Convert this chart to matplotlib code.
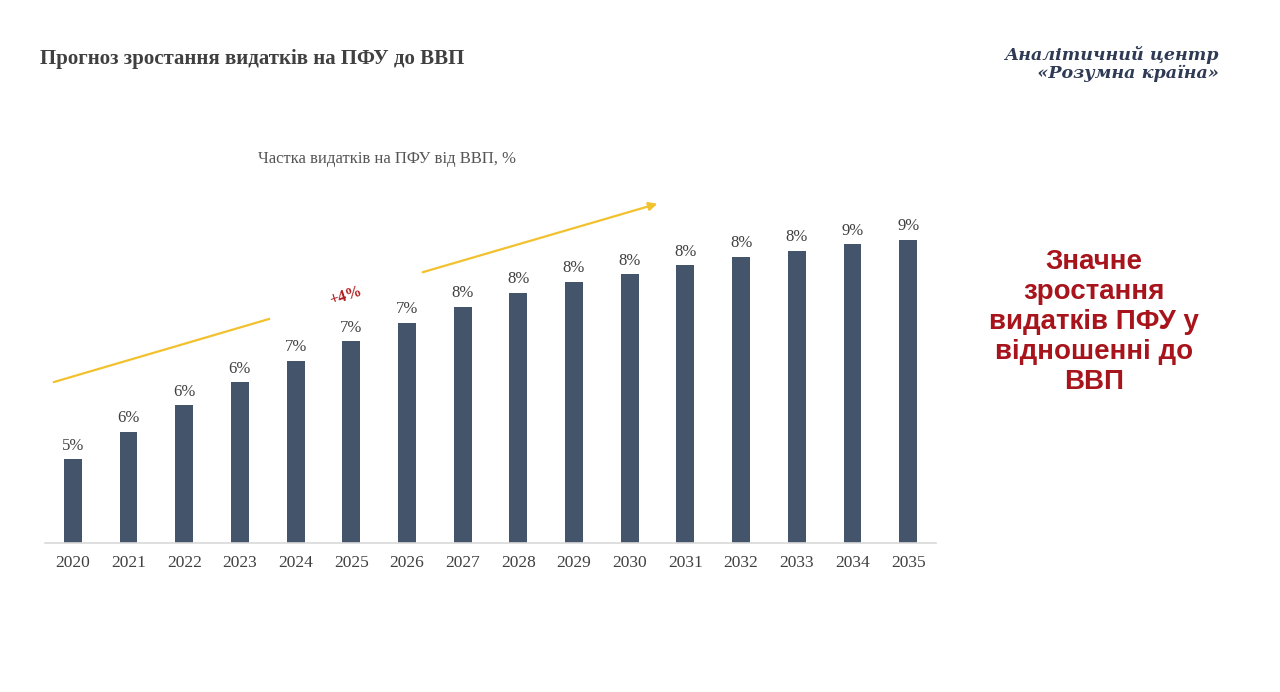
import numpy as np
import matplotlib as mpl
import matplotlib.pyplot as plt

years = ['2020', '2021', '2022', '2023', '2024', '2025', '2026', '2027',
         '2028', '2029', '2030', '2031', '2032', '2033', '2034', '2035']
share = [5.19, 5.62, 6.03, 6.39, 6.73, 7.03, 7.32, 7.57,
         7.79, 7.96, 8.08, 8.22, 8.35, 8.45, 8.55, 8.62]
labels = ['5%', '6%', '6%', '6%', '7%', '7%', '7%', '8%',
          '8%', '8%', '8%', '8%', '8%', '8%', '9%', '9%']

title = 'Прогноз зростання видатків на ПФУ до ВВП'
subtitle = 'Частка видатків на ПФУ від ВВП, %'
brand = 'Аналітичний центр\n   «Розумна країна»'
note = 'Значне\nзростання\nвидатків ПФУ у\nвідношенні до\nВВП'
delta = '+4%'

mpl.rcParams['font.family'] = 'Liberation Serif'

W, H = 1280, 692
fig = plt.figure(figsize=(12.8, 6.92), dpi=100)
fig.patch.set_facecolor('white')

# axes placed in pixels of the slide
ax = fig.add_axes([45 / W, (H - 542.5) / H, (936 - 45) / W, (542.5 - 150) / H])
x = np.arange(len(years))
bars = ax.bar(x, share, width=0.32, color='#44546A')
ax.bar_label(bars, labels=labels, padding=4, fontsize=12, color='#404040')

ax.set_xlim(-0.5, len(years) - 0.5)
ax.set_ylim(3.89, 10.02)
ax.set_xticks(x)
ax.set_xticklabels(years, fontsize=12.5, color='#404040')
ax.tick_params(axis='x', length=0, pad=9)
ax.set_yticks([])
for s in ['top', 'right', 'left']:
    ax.spines[s].set_visible(False)
ax.spines['bottom'].set_color('#D9D9D9')
ax.spines['bottom'].set_linewidth(1.2)


def px(xp, yp):
    return xp / W, 1 - yp / H


# trend lines
fig.add_artist(plt.Line2D([54 / W, 269 / W], [1 - 382 / H, 1 - 319 / H],
                          color='#F2C12E', lw=1.6))
fig.add_artist(mpl.patches.FancyArrowPatch(px(420, 273), px(660, 203),
                                           transform=fig.transFigure,
                                           arrowstyle='-|>,head_length=5,head_width=2.5',
                                           color='#F2C12E', lw=1.6))

fig.text(*px(346, 296), delta, fontsize=11.5, fontweight='bold', color='#B01E1E',
         rotation=18, ha='center', va='center')

fig.text(*px(40, 59), title, fontsize=15, fontweight='bold', color='#404040',
         ha='left', va='center')
fig.text(*px(387, 159), subtitle, fontsize=12, color='#555555',
         ha='center', va='center')
fig.text(*px(1219, 64), brand, family='DejaVu Serif', fontsize=12.6,
         fontweight='bold', style='italic', color='#2F3B55',
         ha='right', va='center', linespacing=1.0)
fig.text(*px(1094, 322), note, family='Liberation Sans', fontsize=20,
         fontweight='bold', color='#A8141B', ha='center', va='center',
         linespacing=1.2)

plt.savefig('out.png', dpi=100)
